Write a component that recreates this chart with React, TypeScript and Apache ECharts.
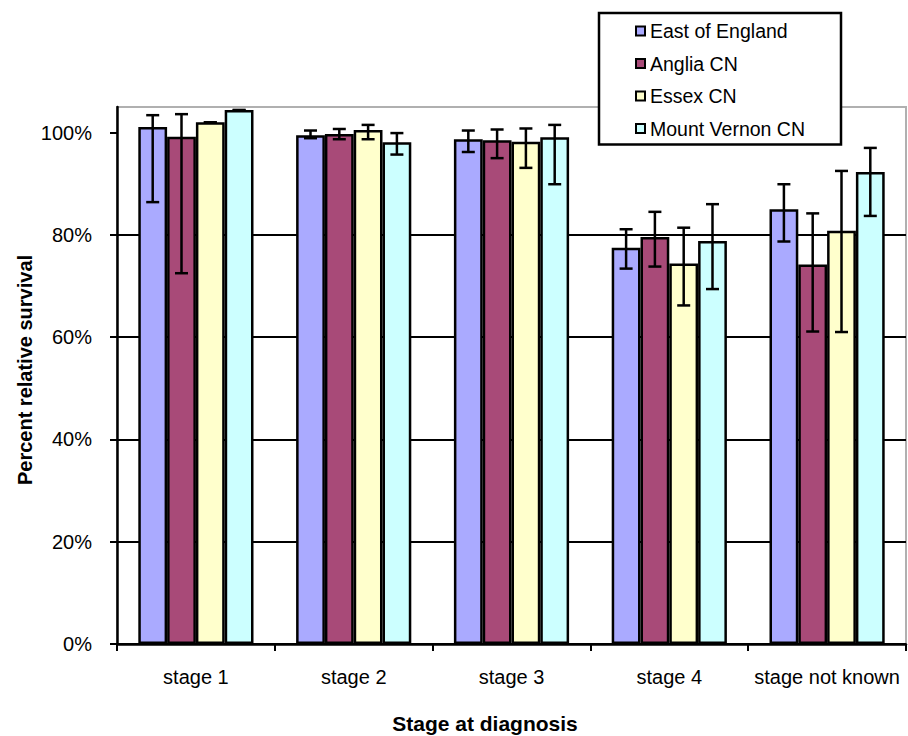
import React, { useEffect, useRef } from "react";
import * as echarts from "echarts";

const categories = ["stage 1", "stage 2", "stage 3", "stage 4", "stage not known"];
const seriesNames = ["East of England", "Anglia CN", "Essex CN", "Mount Vernon CN"];
const colors = ["#aaaaff", "#a84a78", "#ffffcc", "#ccffff"];

const eastValues = [101.1, 99.5, 98.7, 77.5, 85.0];
const eastLow = [86.4, 98.9, 96.2, 73.4, 78.7];
const eastHigh = [103.4, 100.4, 100.4, 81.1, 89.9];

const angliaValues = [99.2, 99.7, 98.5, 79.6, 74.2];
const angliaLow = [72.5, 98.7, 95.0, 73.8, 61.1];
const angliaHigh = [103.6, 100.7, 100.6, 84.5, 84.2];

const essexValues = [102.0, 100.5, 98.2, 74.4, 80.8];
const essexLow = [102.0, 98.7, 93.1, 66.2, 61.0];
const essexHigh = [102.0, 101.5, 100.8, 81.4, 92.5];

const mountVernonValues = [104.4, 98.1, 99.1, 78.8, 92.3];
const mountVernonLow = [104.4, 95.7, 89.9, 69.4, 83.7];
const mountVernonHigh = [104.4, 99.9, 101.5, 86.0, 97.0];

const yTicks = [0, 20, 40, 60, 80, 100];

const valuesList = [eastValues, angliaValues, essexValues, mountVernonValues];
const lowList = [eastLow, angliaLow, essexLow, mountVernonLow];
const highList = [eastHigh, angliaHigh, essexHigh, mountVernonHigh];

const FONT = "'Liberation Sans', Arial, sans-serif";
const CAT_GAP = 0.27;

export default function App() {
  const ref = useRef<HTMLDivElement>(null);

  useEffect(() => {
    if (!ref.current) return;
    const chart = echarts.init(ref.current, null, { renderer: "svg" });

    const barSeries = seriesNames.map((name, s) => ({
      name,
      type: "bar",
      data: valuesList[s],
      barGap: "0%",
      barCategoryGap: CAT_GAP * 100 + "%",
      itemStyle: { color: colors[s], borderColor: "#000", borderWidth: 2.5 },
      z: 2,
    }));

    const errorSeries = seriesNames.map((name, s) => ({
      name: name + " CI",
      type: "custom",
      z: 3,
      silent: true,
      data: categories.map((_, i) => [i, lowList[s][i], highList[s][i]]),
      encode: { x: 0, y: [1, 2] },
      renderItem: (params: any, api: any) => {
        const ci = api.value(0);
        const lo = api.value(1);
        const hi = api.value(2);
        const pHi = api.coord([ci, hi]);
        const pLo = api.coord([ci, lo]);
        const bw = api.size([1, 0])[0];
        const groupW = bw * (1 - CAT_GAP);
        const barW = groupW / 4;
        const x = pHi[0] - groupW / 2 + barW * (s + 0.5);
        const cap = 6.5;
        const style = { stroke: "#000", lineWidth: 2.5 };
        return {
          type: "group",
          children: [
            { type: "line", shape: { x1: x, y1: pHi[1], x2: x, y2: pLo[1] }, style },
            { type: "line", shape: { x1: x - cap, y1: pHi[1], x2: x + cap, y2: pHi[1] }, style },
            { type: "line", shape: { x1: x - cap, y1: pLo[1], x2: x + cap, y2: pLo[1] }, style },
          ],
        };
      },
    }));

    chart.setOption({
      animation: false,
      backgroundColor: "#ffffff",
      textStyle: { fontFamily: FONT },
      grid: {
        left: 117,
        right: 2,
        top: 107,
        bottom: 92,
        show: true,
        borderColor: "#b0b0b0",
        borderWidth: 2,
        backgroundColor: "transparent",
        outerBoundsMode: "none",
      },
      legend: {
        data: seriesNames,
        orient: "vertical",
        left: 599,
        top: 13,
        padding: [8, 36, 6, 36],
        itemGap: 12.5,
        itemWidth: 9,
        itemHeight: 9,
        icon: "rect",
        backgroundColor: "#ffffff",
        borderColor: "#000",
        borderWidth: 2.5,
        z: 10,
        textStyle: { fontSize: 19.5, lineHeight: 19, color: "#000", fontFamily: FONT },
      },
      xAxis: {
        type: "category",
        data: categories,
        boundaryGap: true,
        axisLine: { show: true, lineStyle: { color: "#000", width: 2.5 } },
        axisTick: { show: true, length: 7, alignWithLabel: false, lineStyle: { color: "#000", width: 2 } },
        axisLabel: { fontSize: 20, color: "#000", margin: 23, fontFamily: FONT, interval: 0 },
        splitLine: { show: false },
      },
      yAxis: {
        type: "value",
        min: 0,
        max: 105,
        interval: 20,
        axisLine: { show: true, lineStyle: { color: "#000", width: 2.5 } },
        axisTick: {
          show: true,
          length: 7,
          customValues: yTicks,
          lineStyle: { color: "#000", width: 2 },
        },
        axisLabel: {
          fontSize: 20,
          color: "#000",
          margin: 25,
          fontFamily: FONT,
          customValues: yTicks,
          formatter: (v: number) => (v > 100 ? "" : v + "%"),
        },
        splitLine: {
          show: true,
          showMaxLine: false,
          lineStyle: { color: "#000", width: 2 },
        },
      },
      graphic: [
        {
          type: "text",
          x: 25,
          y: 370,
          rotation: Math.PI / 2,
          style: {
            text: "Percent relative survival",
            font: "bold 20px " + FONT,
            fill: "#000",
            align: "center",
            verticalAlign: "middle",
          },
        },
        {
          type: "text",
          x: 485,
          y: 723,
          style: {
            text: "Stage at diagnosis",
            font: "bold 21px " + FONT,
            fill: "#000",
            align: "center",
            verticalAlign: "middle",
          },
        },
      ],
      series: [...barSeries, ...errorSeries],
    });

    return () => chart.dispose();
  }, []);

  return (
    <div
      ref={ref}
      style={{ position: "fixed", left: 0, top: 0, width: 908, height: 736 }}
    />
  );
}
